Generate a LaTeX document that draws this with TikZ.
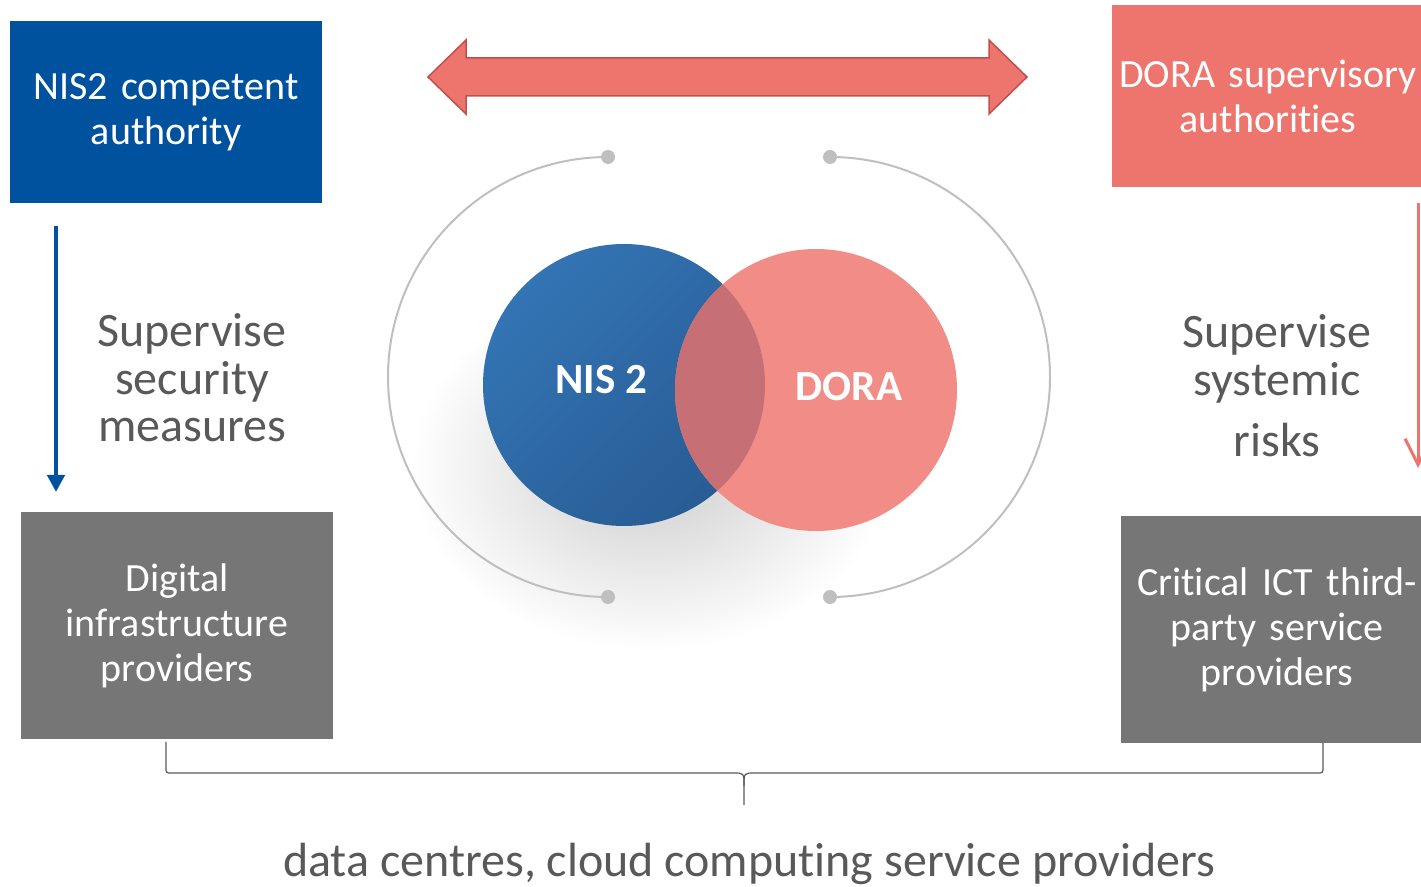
\documentclass[tikz,border=0pt]{standalone}
\usepackage{fontspec}
\setmainfont{Carlito}[Ligatures=NoCommon]
\usetikzlibrary{arrows.meta,positioning}
\definecolor{nisblue}{RGB}{0,81,158}
\definecolor{dorared}{RGB}{238,117,109}
\definecolor{arrowred}{RGB}{192,80,77}
\definecolor{provgray}{RGB}{118,118,118}
\definecolor{txtgray}{RGB}{89,89,89}
\definecolor{arcgray}{RGB}{191,191,191}
\definecolor{vennblue}{RGB}{51,116,180}
\definecolor{venndark}{RGB}{40,92,148}
\definecolor{vennred}{RGB}{241,140,134}
\definecolor{vennover}{RGB}{198,111,116}
\tikzset{
  basic/.style     = {rectangle, text width=310pt, align=center, text=white,
                      inner sep=0pt, font=\fontsize{40}{45}\selectfont},
  authority/.style = {basic, minimum width=312pt, minimum height=182pt},
  provider/.style  = {basic, fill=provgray, minimum width=312pt,
                      minimum height=227pt},
  remark/.style    = {text=txtgray, align=center, inner sep=0pt,
                      font=\fontsize{48}{47.5}\selectfont},
  venn/.style      = {circle, minimum size=282pt, inner sep=0pt},
  venn label/.style = {text=white, font=\bfseries\fontsize{43}{45}\selectfont},
  ring/.style      = {draw=arcgray, line width=2pt},
  brace line/.style = {draw=txtgray, line width=1.2pt}
}
\begin{document}
\begin{tikzpicture}[x=1pt, y=1pt]
  \useasboundingbox (0,0) rectangle (1421,886);

  % shadow under the two circles
  \shade[shading=radial, inner color=black!20, outer color=white]
    (650,420) ellipse[x radius=240, y radius=185];

  % authorities on top, providers below
  \node[authority, fill=nisblue] (nca) at (166,774) {NIS2 competent\\authority};
  \node[authority, fill=dorared] (dsa) at (1268,790) {DORA supervisory\\authorities};
  \node[provider] (dip) at (177,260) {Digital\\infrastructure\\providers};
  \node[provider] (ctp) at (1277,256) {Critical ICT third-\\party service\\providers};

  % what each side supervises
  \node[remark] (ssm) at (192,508) {Supervise\\security\\measures};
  \node[remark] (ssr) at (1277,500) {Supervise\\systemic\\[14pt]risks};
  \node[remark] (dcc) at (749,22)
    {data centres, cloud computing service providers};

  % double arrow between the authorities
  \fill[dorared, draw=arrowred, line width=1.5pt, line join=miter]
    (428,809) -- (466,846) -- (466,828) -- (989,828) -- (989,846) -- (1027,809)
    -- (989,772) -- (989,790) -- (466,790) -- (466,772) -- cycle;

  % the two overlapping circles
  \node[venn, top color=vennblue, bottom color=venndark, shading angle=45] (nis) at (624,501) {};
  \node[venn, fill=vennred] (dora) at (816,496) {};
  \begin{scope}
    \clip (nis.center) circle[radius=141];
    \fill[vennover] (dora.center) circle[radius=141];
  \end{scope}
  \node[venn label] at ([xshift=-23pt, yshift=5pt]nis.center) {NIS 2};
  \node[venn label] at ([xshift=33pt, yshift=3pt]dora.center) {DORA};

  % grey half rings round the circles
  \coordinate (rl1) at (608,729);
  \coordinate (rl2) at (608,289);
  \coordinate (rr1) at (830,729);
  \coordinate (rr2) at (830,289);
  \draw[ring] (rl1) arc[start angle=90, end angle=270, radius=220];
  \draw[ring] (rr1) arc[start angle=90, end angle=-90, radius=220];
  \foreach \value in {rl1,rl2,rr1,rr2}
    \fill[arcgray] (\value) circle[radius=7];

  % supervision arrows
  \coordinate (na) at (56,660);
  \coordinate (nb) at (56,394);
  \coordinate (da) at (1418,683);
  \coordinate (db) at (1418,418);
  \draw[nisblue, line width=4.5pt, -{Triangle[length=17pt, width=17pt]}] (na) -- (nb);
  \draw[dorared, line width=3pt, -{Straight Barb[length=26pt, width=26pt]}] (da) -- (db);

  % brace below the providers
  \coordinate (bl) at (166,144);
  \coordinate (br) at (1323,143);
  \coordinate (bt) at (744,81);
  \draw[brace line] (bl) -- (166,119) .. controls (166,113) .. (172,113) -- (734,113)
    .. controls (744,113) .. (744,100) -- (bt);
  \draw[brace line] (br) -- (1323,119) .. controls (1323,113) .. (1317,113) -- (754,113)
    .. controls (744,113) .. (744,100);
\end{tikzpicture}
\end{document}
